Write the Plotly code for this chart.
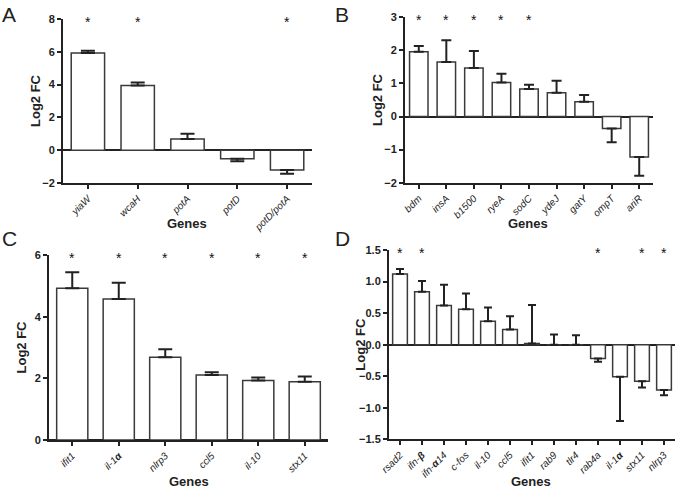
import plotly.graph_objects as go

W, H = 675, 489

# ---------------- data ----------------
genes_a = ["yiaW", "wcaH", "potA", "potD", "potD/potA"]
vals_a = [5.93, 3.95, 0.68, -0.52, -1.20]
errs_a = [0.13, 0.18, 0.33, 0.15, 0.24]
sig_a = [True, True, False, False, True]

genes_b = ["bdm", "insA", "b1500", "ryeA", "sodC", "ydeJ", "gatY", "ompT", "ariR"]
vals_b = [1.96, 1.65, 1.47, 1.03, 0.83, 0.72, 0.45, -0.36, -1.22]
errs_b = [0.17, 0.66, 0.51, 0.26, 0.13, 0.36, 0.20, 0.42, 0.57]
sig_b = [True, True, True, True, True, False, False, False, False]

genes_c = ["ifit1", "il-1α", "nlrp3", "ccl5", "il-10", "stx11"]
vals_c = [4.92, 4.57, 2.68, 2.11, 1.93, 1.89]
errs_c = [0.52, 0.53, 0.26, 0.09, 0.10, 0.17]
sig_c = [True, True, True, True, True, True]

genes_d = ["rsad2", "ifn-β", "ifn-α14", "c-fos", "il-10", "ccl5", "ifit1",
           "rab9", "tlr4", "rab4a", "il-1α", "stx11", "nlrp3"]
vals_d = [1.12, 0.84, 0.62, 0.56, 0.37, 0.24, 0.02, 0.0, 0.0, -0.22, -0.51, -0.58, -0.72]
errs_d = [0.08, 0.17, 0.33, 0.25, 0.22, 0.21, 0.61, 0.16, 0.15, 0.05, 0.70, 0.10, 0.08]
sig_d = [True, True, False, False, False, False, False, False, False, True, False, True, True]

ticklabels_d = ["rsad2", "ifn-<b>β</b>", "ifn-<b>α</b>14", "c-fos", "il-10", "ccl5", "ifit1",
                "rab9", "tlr4", "rab4a", "il-1<b>α</b>", "stx11", "nlrp3"]
ticklabels_c = ["ifit1", "il-1<b>α</b>", "nlrp3", "ccl5", "il-10", "stx11"]

FONT = "Liberation Sans, Arial, sans-serif"
INK = "#222222"

panels = [
    dict(genes=genes_a, vals=vals_a, errs=errs_a, sig=sig_a, labels=genes_a,
         x0=63, x1=312, ytop=19, ybot=183, ymin=-2, ymax=8, dtick=2, fmt="d",
         cap=7, letter="A", lx=0, ly=1, gx=187, gy=224),
    dict(genes=genes_b, vals=vals_b, errs=errs_b, sig=sig_b, labels=genes_b,
         x0=405, x1=653, ytop=17.3, ybot=182.7, ymin=-2, ymax=3, dtick=1, fmt="d",
         cap=5, letter="B", lx=333, ly=1, gx=528, gy=223),
    dict(genes=genes_c, vals=vals_c, errs=errs_c, sig=sig_c, labels=ticklabels_c,
         x0=49, x1=328, ytop=255, ybot=440, ymin=0, ymax=6, dtick=2, fmt="d",
         cap=7, letter="C", lx=0, ly=225, gx=189, gy=481),
    dict(genes=genes_d, vals=vals_d, errs=errs_d, sig=sig_d, labels=ticklabels_d,
         x0=389, x1=675, ytop=250, ybot=439.3, ymin=-1.5, ymax=1.5, dtick=0.5, fmt=".1f",
         cap=4, letter="D", lx=333, ly=225, gx=531, gy=481),
]

fig = go.Figure()
annotations = []
layout_axes = {}

for i, p in enumerate(panels):
    n = i + 1
    xa = "x" if n == 1 else f"x{n}"
    ya = "y" if n == 1 else f"y{n}"
    up = [e if v >= 0 else 0 for v, e in zip(p["vals"], p["errs"])]
    down = [e if v < 0 else 0 for v, e in zip(p["vals"], p["errs"])]
    fig.add_trace(go.Bar(
        x=list(range(len(p["genes"]))), y=p["vals"], xaxis=xa, yaxis=ya,
        width=0.67,
        marker=dict(color="white", line=dict(color="#3a3a3a", width=1.5)),
        error_y=dict(type="data", symmetric=False, array=up, arrayminus=down,
                     color=INK, thickness=2, width=p["cap"]),
        showlegend=False, hoverinfo="skip", cliponaxis=False,
    ))
    xdom = [p["x0"] / W, p["x1"] / W]
    ydom = [1 - p["ybot"] / H, 1 - p["ytop"] / H]
    layout_axes["xaxis" if n == 1 else f"xaxis{n}"] = dict(
        domain=xdom, anchor=ya, range=[-0.5, len(p["genes"]) - 0.5],
        tickmode="array", tickvals=list(range(len(p["genes"]))),
        ticktext=[f"<i>{t}</i>" for t in p["labels"]],
        tickangle=-45, ticks="outside", ticklen=4, tickwidth=2, tickcolor=INK,
        showline=True, linecolor=INK, linewidth=2, showgrid=False, zeroline=False,
        automargin=False, fixedrange=True,
        tickfont=dict(family=FONT, size=10, color=INK),
    )
    layout_axes["yaxis" if n == 1 else f"yaxis{n}"] = dict(
        domain=ydom, anchor=xa, range=[p["ymin"], p["ymax"]],
        tick0=p["ymin"], dtick=p["dtick"], tickformat=p["fmt"],
        ticks="outside", ticklen=4, tickwidth=2, tickcolor=INK,
        showline=True, linecolor=INK, linewidth=2, showgrid=False,
        zeroline=True, zerolinecolor=INK, zerolinewidth=2,
        automargin=False, fixedrange=True,
        tickfont=dict(family=FONT, size=11, color=INK, weight="bold"),
    )
    for k, s in enumerate(p["sig"]):
        if s:
            annotations.append(dict(x=k, y=p["ymax"], xref=xa, yref=ya, text="*",
                                    showarrow=False, yanchor="middle", yshift=-3,
                                    font=dict(family=FONT, size=14, color="#111111")))
    ymid = 1 - ((p["ytop"] + p["ybot"]) / 2) / H
    annotations.append(dict(x=(p["x0"] - 28) / W, y=ymid, xref="paper", yref="paper",
                            text="<b>Log2 FC</b>", textangle=-90, showarrow=False,
                            xanchor="center", yanchor="middle",
                            font=dict(family=FONT, size=13, color=INK)))
    annotations.append(dict(x=p["gx"] / W, y=1 - p["gy"] / H, xref="paper", yref="paper",
                            text="<b>Genes</b>", showarrow=False,
                            xanchor="center", yanchor="middle",
                            font=dict(family=FONT, size=13, color=INK)))
    annotations.append(dict(x=p["lx"] / W, y=1 - p["ly"] / H, xref="paper", yref="paper",
                            text=p["letter"], showarrow=False, xanchor="left", yanchor="top",
                            font=dict(family=FONT, size=21, color=INK)))

fig.update_layout(
    width=W, height=H, margin=dict(l=0, r=0, t=0, b=0, autoexpand=False),
    paper_bgcolor="white", plot_bgcolor="white",
    annotations=annotations,
    **layout_axes,
)

fig.write_html(
    "out.html",
    config={"displayModeBar": False, "staticPlot": True},
    post_script="document.body.style.margin='0';document.body.style.padding='0';"
                "document.documentElement.style.overflow='hidden';",
)
